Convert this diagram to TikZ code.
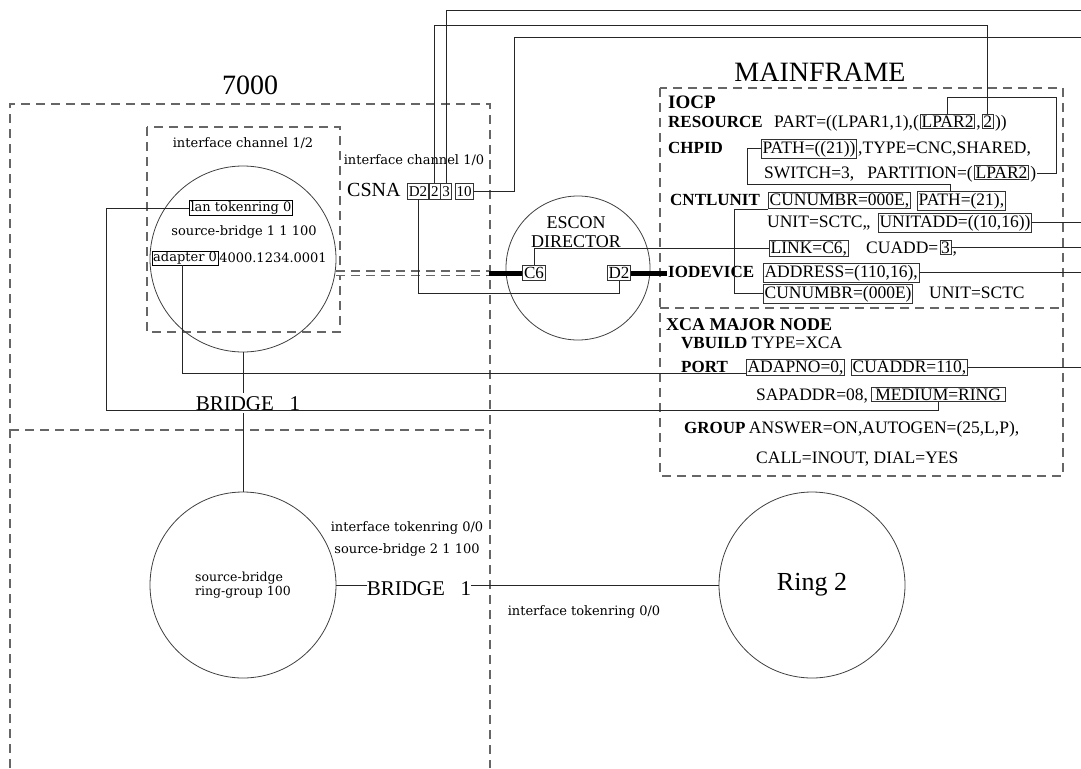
\documentclass[tikz,border=0pt]{standalone}
\usepackage{fontspec}
\setmainfont{Liberation Serif}
\newfontfamily\labelfont{DejaVu Serif}
\usetikzlibrary{positioning}

\begin{document}
\begin{tikzpicture}[x=1pt, y=-1pt, node distance=0pt]
    \tikzstyle{zone}=[draw=black!60, line width=1.2pt, dash pattern=on 9pt off 6pt]
    \tikzstyle{wire}=[draw=black!85, line width=0.9pt]
    \tikzstyle{dev}=[circle, draw=black!75, line width=0.8pt]
    \tikzstyle{lbl}=[font=\labelfont\fontsize{13}{15}\selectfont, inner sep=1pt]
    \tikzstyle{big}=[font=\fontsize{28}{30}\selectfont, inner sep=0pt]
    \tikzstyle{cfg}=[font=\fontsize{17.5}{20}\selectfont, inner sep=1pt, anchor=base west]
    \tikzstyle{kw}=[cfg, font=\fontsize{17}{20}\selectfont\bfseries]
    \tikzstyle{fld}=[cfg, draw=black!80, line width=0.8pt, inner sep=1.2pt]
    \tikzstyle{port}=[draw=black!80, line width=0.8pt, font=\fontsize{17}{18}\selectfont, inner xsep=1.5pt, inner ysep=2pt]
    \tikzstyle{csb}=[port, font=\fontsize{15}{17}\selectfont, inner ysep=3pt, anchor=base west]
    \tikzstyle{bridge}=[font=\fontsize{21}{22}\selectfont, inner xsep=0pt, inner ysep=3pt]

    \useasboundingbox (0,0) rectangle (1081,768);

    % Zone
    \draw[zone] (10,768) -- (10,104) -- (490,104) -- (490,768);
    \draw[zone] (10,430) -- (490,430);
    \draw[zone] (147,127) rectangle (340,332);
    \draw[zone] (660,88) rectangle (1063,476);
    \draw[zone] (660,308) -- (1063,308);

    \node[big] (r7000) at (250,85) {7000};
    \node[big] (mf) at (820,72) {MAINFRAME};

    % Router 7000
    \node[dev, minimum size=186pt] (ch) at (243,259) {};
    \node[lbl] (ic12) at (243,143) {interface channel 1/2};
    \node[lbl, draw] (lan) at (241,208) {lan tokenring 0};
    \node[lbl] (sb1) at (244,232) {source-bridge 1 1 100};
    \node[lbl, draw, anchor=west] (adp) at (152,258) {adapter 0};
    \node[lbl, right=0pt of adp] (mac) {4000.1234.0001};

    \node[bridge, anchor=base] (br1) at (248,410) {BRIDGE\ \ \ 1};
    \node[dev, minimum size=186pt, lbl, font=\labelfont\fontsize{12.5}{14}\selectfont, align=left] (rg) at (243,585) {source-bridge\\ring-group 100};
    \node[lbl] (it00a) at (407,528) {interface tokenring 0/0};
    \node[lbl] (sb2) at (407,550) {source-bridge 2 1 100};
    \node[bridge] (br2) at (419,589) {BRIDGE\ \ \ 1};
    \node[lbl] (it00b) at (584,612) {interface tokenring 0/0};
    \node[dev, minimum size=186pt, font=\fontsize{26}{28}\selectfont] (ring2) at (812,585) {Ring 2};

    % CSNA
    \node[lbl] (ic10) at (414,160) {interface channel 1/0};
    \node[cfg, font=\fontsize{20}{22}\selectfont] (csna) at (346,196) {CSNA};
    \node[csb] (csd2) at (407,196) {D2};
    \node[csb, base right=0pt of csd2] (cs2) {2};
    \node[csb, base right=0pt of cs2] (cs3) {3};
    \node[csb, base right=3pt of cs3] (cs10) {10};

    % ESCON
    \node[dev, minimum size=144pt] (esc) at (578,268) {};
    \node[font=\fontsize{18}{19}\selectfont, align=center] (esctxt) at (576,232) {ESCON\\DIRECTOR};
    \node[port] (c6) at (534,273) {C6};
    \node[port] (d2e) at (619,273) {D2};

    % IOCP
    \node[kw, font=\fontsize{19}{20}\selectfont\bfseries] (iocp) at (667,108) {IOCP};
    \node[kw] (res) at (667,127) {RESOURCE};
    \node[cfg] (part) at (773,127) {PART=((LPAR1,1),(};
    \node[fld, base right=0pt of part] (lp2a) {LPAR2};
    \node[cfg, base right=0pt of lp2a] (cm1) {,};
    \node[fld, base right=0pt of cm1] (pn) {2};
    \node[cfg, base right=0pt of pn] (rp1) {))};

    \node[kw] (chp) at (667,153) {CHPID};
    \node[fld] (path1) at (761,153) {PATH=((21))};
    \node[cfg, base right=0pt of path1] (typ) {,TYPE=CNC,SHARED,};
    \node[cfg] (sw) at (763,178) {SWITCH=3,\ \ \ PARTITION=(};
    \node[fld, base right=0pt of sw] (lp2b) {LPAR2};
    \node[cfg, base right=0pt of lp2b] (rp2) {)};

    \node[kw] (cnt) at (669,205) {CNTLUNIT};
    \node[fld] (cun1) at (768,205) {CUNUMBR=000E,};
    \node[fld] (path2) at (917,205) {PATH=(21),};
    \node[cfg] (unit1) at (766,227) {UNIT=SCTC,,};
    \node[fld] (uadd) at (878,227) {UNITADD=((10,16))};
    \node[fld] (link) at (769,253) {LINK=C6,};
    \node[cfg] (cuadd) at (865,253) {CUADD=};
    \node[fld, base right=0pt of cuadd] (cu3) {3};
    \node[cfg, base right=0pt of cu3] (cm3) {,};

    \node[kw] (iodev) at (667,277) {IODEVICE};
    \node[fld] (addr) at (763,277) {ADDRESS=(110,16),};
    \node[fld] (cun2) at (763,298) {CUNUMBR=(000E)};
    \node[cfg] (unit2) at (928,298) {UNIT=SCTC};

    % XCA
    \node[kw, font=\fontsize{18}{20}\selectfont\bfseries] (xca) at (665,330) {XCA MAJOR NODE};
    \node[kw] (vb) at (680,348) {VBUILD};
    \node[cfg, base right=2pt of vb] (typx) {TYPE=XCA};
    \node[kw] (prt) at (680,372) {PORT};
    \node[fld] (adapno) at (746,372) {ADAPNO=0,};
    \node[fld] (cuaddr) at (851,372) {CUADDR=110,};
    \node[cfg] (sap) at (755,400) {SAPADDR=08,};
    \node[fld, inner xsep=4pt] (medium) at (871,400) {MEDIUM=RING};
    \node[kw] (grp) at (683,433) {GROUP};
    \node[cfg, base right=1pt of grp] (ans) {ANSWER=ON,AUTOGEN=(25,L,P),};
    \node[cfg] (call) at (755,463) {CALL=INOUT, DIAL=YES};

    % Collegamenti
    \coordinate (edge) at (1081,0);
    \coordinate (railA) at (0,10);
    \coordinate (railB) at (0,25);
    \coordinate (railC) at (0,37);
    \coordinate (ringbus) at (106,410);

    \draw[wire] (lan.west) -| (ringbus) -| (medium.south);
    \draw[wire] ([xshift=-3pt]adp.south) |- ([yshift=-6pt]adapno.west);
    \draw[wire] (ch.south) -- (ch.south |- br1.north);
    \draw[wire] (rg.north |- br1.south) -- (rg.north);
    \draw[wire] (rg.east) -- (rg.east -| br2.west);
    \draw[wire] (br2.east |- ring2.west) -- (ring2.west);

    \draw[zone, double=white, double distance=3pt, line width=1.3pt] (ch.east |- c6.west) -- ([xshift=-33pt]c6.west);
    \draw[line width=5pt] ([xshift=-33pt]c6.west) -- (c6.west);
    \draw[line width=5pt] (d2e.east) -- (d2e.east -| iodev.west);
    \draw[wire] (c6.north) |- (link.west);
    \draw[wire] (d2e.south) -- ++(0,12) -| (csd2.south);

    \draw[wire] (cs3.north) |- (railA -| edge);
    \draw[wire] (cs2.north) |- (railB -| pn.north) -- (pn.north);
    \draw[wire] (cs10.east) -- ++(41,0) |- (railC -| edge);

    \draw[wire] (lp2a.north) -- ++(0,-16) -| ([xshift=19pt]rp2.east) -- (rp2.east);
    \draw[wire] (path1.west) -- ++(-14,0) |- ([xshift=-11pt,yshift=7pt]path2.north) -- ([xshift=-11pt]path2.north);
    \draw[wire] (cun1.south west) -- ++(-34,0) |- (cun2.west);

    \draw[wire] (uadd.east) -- (uadd.east -| edge);
    \draw[wire] (cu3.east) -- (cu3.east -| edge);
    \draw[wire] (addr.east) -- (addr.east -| edge);
    \draw[wire] (cuaddr.east) -- (cuaddr.east -| edge);
\end{tikzpicture}
\end{document}
